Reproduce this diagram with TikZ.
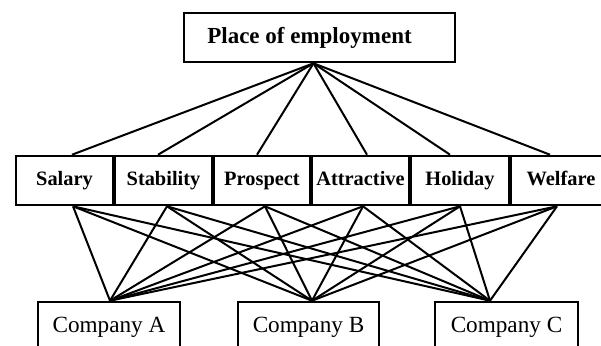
\documentclass[tikz,border=0pt]{standalone}
\usepackage{fontspec}
\setmainfont{Liberation Serif}
\usetikzlibrary{calc}
\begin{document}
\begin{tikzpicture}[x=0.5pt,y=-0.5pt,
  box/.style={draw, line width=1.3pt, inner sep=0pt, minimum height=24.5pt},
  goal/.style={box, minimum width=135.5pt, font=\fontsize{11.5}{13}\selectfont\bfseries, text height=8pt, text depth=2.5pt},
  crit/.style={box, font=\fontsize{10.2}{12}\selectfont\bfseries, text height=7pt, text depth=2pt},
  alt/.style={box, minimum height=25pt, font=\fontsize{11.6}{13}\selectfont, text height=8pt, text depth=2.5pt},
  link/.style={line width=1pt}]
\useasboundingbox (0,0) rectangle (601,345);
\fill[white] (0,0) rectangle (601,345);
\clip (0,0) rectangle (601,345);

% goal
\node[goal] (goal) at (319.5,37.5) {Place of employment\hspace*{10pt}};

% criteria
\node[crit, minimum width=48.5pt] (sal) at (64.5,180.5) {Salary};
\node[crit, minimum width=48.5pt] (sta) at (163.5,180.5) {Stability};
\node[crit, minimum width=48pt]   (pro) at (262,180.5) {Prospect};
\node[crit, minimum width=48.5pt] (att) at (360.5,180.5) {Attractive};
\node[crit, minimum width=49pt]   (hol) at (460,180.5) {Holiday};
\node[crit, minimum width=50pt]   (wel) at (561,180.5) {Welfare};

% alternatives
\node[alt, minimum width=71pt]   (ca) at (109,327) {Company A};
\node[alt, minimum width=70.5pt] (cb) at (308.5,327) {Company B};
\node[alt, minimum width=71.5pt] (cc) at (506.5,327) {Company C};

% goal to criteria
\coordinate (apex) at ($(goal.south)+(-6,0)$);
\foreach \c/\dc in {sal/7.5, sta/-5.5, pro/-5, att/6.5, hol/-10, wel/-11}
  \draw[link] (apex) -- ($(\c.north)+(\dc,0)$);

% criteria to alternatives
\foreach \c/\dc in {sal/8.5, sta/3.5, pro/3, att/2.5, hol/0, wel/-4}
  \foreach \a/\da in {ca/1, cb/3.5, cc/-16.5}
    \draw[link] ($(\c.south)+(\dc,0)$) -- ($(\a.north)+(\da,0)$);
\end{tikzpicture}
\end{document}
